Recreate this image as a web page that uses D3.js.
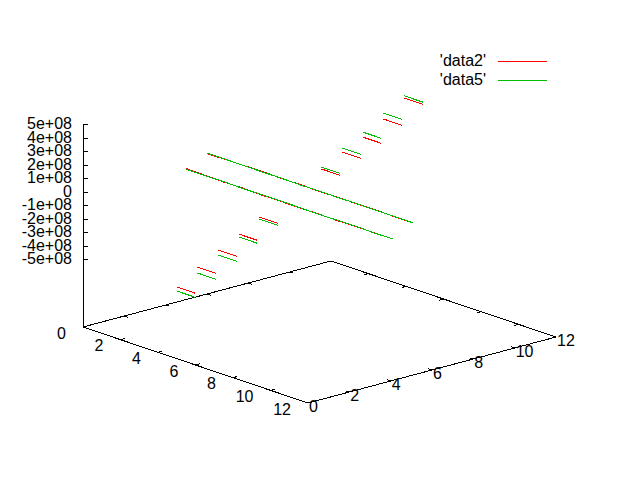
<!DOCTYPE html>
<html>
<head>
<meta charset="utf-8">
<script src="https://cdn.jsdelivr.net/npm/d3@7"></script>
<style>
  body { margin: 0; background: #fff; }
  text { font-family: "Liberation Sans", Arial, sans-serif; font-size: 16px; fill: #000; }
</style>
</head>
<body>
<div id="chart"></div>
<script>
    const width = 640, height = 480;

    // tick values and labels
    const xTicks = [0, 2, 4, 6, 8, 10, 12];
    const yTicks = [0, 2, 4, 6, 8, 10, 12];
    const zTicks = [5e8, 4e8, 3e8, 2e8, 1e8, 0, -1e8, -2e8, -3e8, -4e8, -5e8];
    const zTickLabels = ["5e+08", "4e+08", "3e+08", "2e+08", "1e+08", "0",
                         "-1e+08", "-2e+08", "-3e+08", "-4e+08", "-5e+08"];

    // long rows (y = 5 and y = 6), x from 0 to 11
    const lineX = [0, 1, 2, 3, 4, 5, 6, 7, 8, 9, 10, 11];
    const data2Row5 = [-0.30e8, -0.33e8, -0.37e8, -0.33e8, -0.38e8, -0.36e8, -0.39e8, -0.35e8, -0.38e8, -0.36e8, -0.36e8, -0.35e8];
    const data5Row5 = [-0.36e8, -0.36e8, -0.33e8, -0.37e8, -0.34e8, -0.33e8, -0.35e8, -0.38e8, -0.35e8, -0.33e8, -0.37e8, -0.35e8];
    const data2Row6 = [0.40e8, 0.42e8, 0.44e8, 0.47e8, 0.41e8, 0.45e8, 0.40e8, 0.45e8, 0.42e8, 0.46e8, 0.41e8, 0.41e8];
    const data5Row6 = [0.45e8, 0.44e8, 0.43e8, 0.42e8, 0.44e8, 0.41e8, 0.44e8, 0.42e8, 0.44e8, 0.42e8, 0.44e8, 0.42e8];

    // short pieces: only x 5..6 of the other rows
    const shortRows = [0, 1, 2, 3, 4, 7, 8, 9, 10, 11];
    const shortX = [5, 6];
    const data2Short = [-4.69e8, -3.62e8, -2.77e8, -1.99e8, -1.14e8, 1.20e8, 2.05e8, 2.75e8, 3.68e8, 4.83e8];
    const data5Short = [-4.99e8, -4.06e8, -3.14e8, -2.21e8, -1.29e8, 1.34e8, 2.34e8, 3.12e8, 4.12e8, 4.99e8];

    const series = [
        { name: "'data2'", color: "#ff0000", row5: data2Row5, row6: data2Row6, short: data2Short },
        { name: "'data5'", color: "#00c000", row5: data5Row5, row6: data5Row6, short: data5Short }
    ];

    // gnuplot-like view: base plane sits below zmin (ticslevel 0.5)
    const zBase = -1e9, zTop = 5e8;
    const xS = d3.scaleLinear().domain([0, 12]).range([0, 1]);
    const yS = d3.scaleLinear().domain([0, 12]).range([0, 1]);
    const zS = d3.scaleLinear().domain([zBase, zTop]).range([0, -202.5]);
    const O = [83, 327], ex = [225, 76], ey = [248, -66];
    const proj = (x, y, z) => [
        O[0] + xS(x) * ex[0] + yS(y) * ey[0],
        O[1] + xS(x) * ex[1] + yS(y) * ey[1] + zS(z)
    ];
    const line = d3.line().x(d => d[0]).y(d => d[1]);

    const svg = d3.select("#chart").append("svg")
        .attr("width", width)
        .attr("height", height);

    const g = svg.append("g")
        .attr("fill", "none")
        .attr("stroke", "#000")
        .attr("stroke-width", 1)
        .attr("shape-rendering", "crispEdges");

    // base plane edges
    g.append("path").attr("d", line([
        proj(0, 0, zBase), proj(12, 0, zBase), proj(12, 12, zBase), proj(0, 12, zBase), proj(0, 0, zBase)
    ]));

    // x ticks on front and back edges
    xTicks.forEach(t => {
        g.append("path").attr("d", line([proj(t, 0, zBase), proj(t, 0.2, zBase)]));
        g.append("path").attr("d", line([proj(t, 12, zBase), proj(t, 11.8, zBase)]));
    });
    yTicks.forEach(t => {
        g.append("path").attr("d", line([proj(12, t, zBase), proj(11.8, t, zBase)]));
        g.append("path").attr("d", line([proj(0, t, zBase), proj(0.2, t, zBase)]));
    });

    // z axis and ticks
    g.append("path").attr("d", line([proj(0, 0, zBase), proj(0, 0, zTop)]));
    zTicks.forEach(t => {
        const p = proj(0, 0, t);
        g.append("path").attr("d", line([p, [p[0] + 5, p[1]]]));
    });

    // tick labels
    svg.selectAll(".zlab").data(zTicks).join("text")
        .attr("x", d => proj(0, 0, d)[0] - 11)
        .attr("y", d => proj(0, 0, d)[1] - 1)
        .attr("text-anchor", "end")
        .attr("dominant-baseline", "central")
        .text((d, i) => zTickLabels[i]);

    svg.selectAll(".xlab").data(xTicks).join("text")
        .attr("x", d => proj(d, 0, zBase)[0] - 17)
        .attr("y", d => proj(d, 0, zBase)[1] + 6)
        .attr("text-anchor", "end")
        .attr("dominant-baseline", "central")
        .text(d => d);

    svg.selectAll(".ylab").data(yTicks).join("text")
        .attr("x", d => proj(12, d, zBase)[0] + 1)
        .attr("y", d => proj(12, d, zBase)[1] + 3)
        .attr("text-anchor", "start")
        .attr("dominant-baseline", "central")
        .text(d => d);

    // plotted data
    const plot = svg.append("g")
        .attr("fill", "none")
        .attr("stroke-width", 1)
        .attr("shape-rendering", "crispEdges");

    series.forEach(s => {
        shortRows.forEach((r, i) => {
            plot.append("path")
                .attr("stroke", s.color)
                .attr("d", line(shortX.map(x => proj(x, r, s.short[i]))));
        });
        plot.append("path")
            .attr("stroke", s.color)
            .attr("d", line(lineX.map((x, i) => proj(x, 5, s.row5[i]))));
        plot.append("path")
            .attr("stroke", s.color)
            .attr("d", line(lineX.map((x, i) => proj(x, 6, s.row6[i]))));
    });

    // legend
    series.forEach((s, i) => {
        const ly = 61 + i * 19;
        svg.append("text")
            .attr("x", 486)
            .attr("y", ly - 1)
            .attr("text-anchor", "end")
            .attr("dominant-baseline", "central")
            .text(s.name);
        svg.append("line")
            .attr("x1", 498).attr("x2", 547)
            .attr("y1", ly).attr("y2", ly)
            .attr("stroke", s.color)
            .attr("shape-rendering", "crispEdges");
    });
</script>
</body>
</html>
